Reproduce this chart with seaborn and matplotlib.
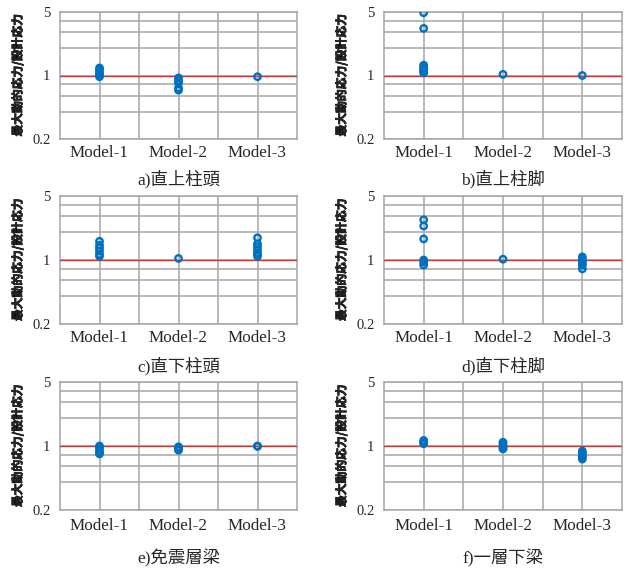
import pandas as pd
import matplotlib
matplotlib.use("Agg")
import matplotlib.pyplot as plt
import matplotlib.patheffects as pe
from matplotlib.ticker import FixedLocator, NullFormatter
import seaborn as sns

# Categories and labels
models = ["Model-1", "Model-2", "Model-3"]
titles = ["a)直上柱頭", "b)直上柱脚", "c)直下柱頭", "d)直下柱脚", "e)免震層梁", "f)一層下梁"]
ylabel = "最大動的応力/設計応力"

# Stress ratios: [Model-1, Model-2, Model-3]
a_vals = [[1.21, 1.15, 1.08, 1.03, 1.0, 0.97], [0.94, 0.88, 0.83, 0.73, 0.69], [0.97]]
b_vals = [[4.9, 3.3, 1.3, 1.25, 1.2, 1.15, 1.1, 1.07], [1.03], [1.0]]
c_vals = [[1.6, 1.45, 1.35, 1.25, 1.15, 1.1], [1.04], [1.75, 1.5, 1.4, 1.3, 1.2, 1.15, 1.1]]
d_vals = [[2.75, 2.35, 1.7, 1.0, 0.95, 0.88], [1.02], [1.08, 1.03, 0.98, 0.93, 0.88, 0.8]]
e_vals = [[1.0, 0.96, 0.9, 0.85, 0.82], [0.98, 0.95, 0.92, 0.9], [1.0, 0.99]]
f_vals = [[1.15, 1.1, 1.06], [1.1, 1.05, 1.0, 0.95, 0.93], [0.88, 0.84, 0.8, 0.76, 0.72]]
panels = [a_vals, b_vals, c_vals, d_vals, e_vals, f_vals]

blue = "#0070C0"
red = "#E0302A"
grey = "#A6A6A6"

sns.set_style("white")
plt.rcParams["font.family"] = ["Liberation Serif", "Noto Sans CJK JP"]

W, H = 633, 570
fig = plt.figure(figsize=(W / 100, H / 100), dpi=100)

# axes boxes in pixels
col_lr = [(60, 297), (384, 622)]
row_tb = [(12, 139), (196, 324), (382, 510)]
tick_pad = [4, 4, 5.5]
title_off = [40, 42, 48]

for i, vals in enumerate(panels):
    r, c = divmod(i, 2)
    l, rt = col_lr[c]
    t, b = row_tb[r]
    ax = fig.add_axes([l / W, 1 - b / H, (rt - l) / W, (b - t) / H])

    df = pd.DataFrame({
        "model": [m for m, v in zip(models, vals) for _ in v],
        "ratio": [x for v in vals for x in v],
    })
    sns.stripplot(data=df, x="model", y="ratio", order=models, jitter=False,
                  size=4.6, color=blue, ax=ax, zorder=5)
    for coll in ax.collections:
        coll.set_facecolor("none")
        coll.set_edgecolor(blue)
        coll.set_linewidth(1.7)

    ax.set_yscale("log")
    ax.set_ylim(0.2, 5)
    ax.set_xlim(-0.5, 2.5)
    ax.set_yticks([0.2, 1, 5])
    ax.set_yticklabels(["0.2", "1", "5"])
    ax.yaxis.set_minor_locator(FixedLocator([0.4, 0.6, 0.8, 2, 3, 4]))
    ax.yaxis.set_minor_formatter(NullFormatter())
    ax.xaxis.set_minor_locator(FixedLocator([0.5, 1.5]))
    ax.grid(True, which="both", color=grey, lw=1.1)
    ax.set_axisbelow(True)
    ax.axhline(1, color=red, lw=1.0, zorder=3)

    ax.tick_params(axis="y", which="major", length=5, width=1.1, color=grey,
                   pad=2, labelsize=10.5)
    ax.tick_params(axis="y", which="minor", length=0)
    ax.tick_params(axis="x", which="both", length=0, pad=tick_pad[r], labelsize=12.3)
    for s in ax.spines.values():
        s.set_color(grey)
        s.set_linewidth(1.1)

    ax.set_xlabel("")
    yl = ax.set_ylabel(ylabel, fontsize=8.5, fontweight="bold",
                       family=["Noto Sans CJK JP", "DejaVu Sans"])
    yl.set_path_effects([pe.withStroke(linewidth=0.45, foreground="black")])
    ax.yaxis.set_label_coords(-0.15, 0.5)
    ax.text(0.5, -title_off[r] / (b - t), titles[i], transform=ax.transAxes,
            ha="center", va="center", fontsize=12.5)

fig.savefig("out.png", dpi=100)
plt.close(fig)
